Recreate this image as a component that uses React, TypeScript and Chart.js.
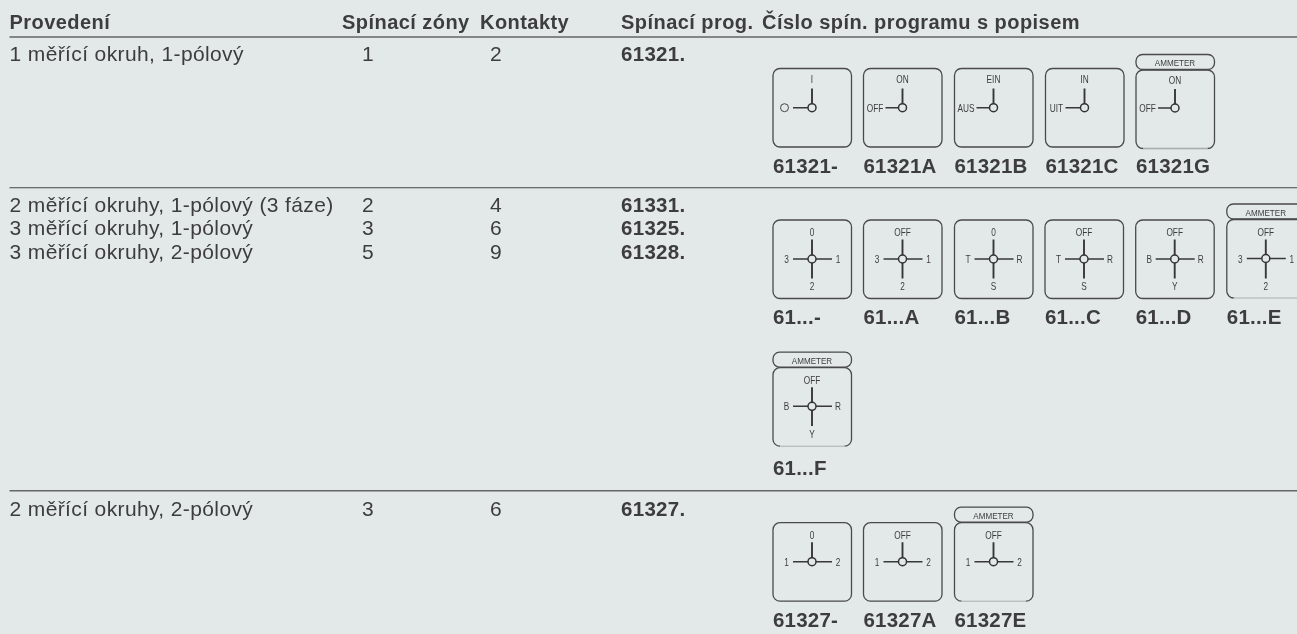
import React, { useEffect, useRef } from "react";
import { Chart, registerables } from "chart.js";

Chart.register(...registerables);

const W = 1297;
const H = 634;
const BG = "#e3e9e9";
const INK = "#3d3d3d";
const FONT = '"Liberation Sans", Arial, sans-serif';

// ---- table data ----
const headers = ["Provedení", "Spínací zóny", "Kontakty", "Spínací prog.", "Číslo spín. programu s popisem"];
const headerX = [9.5, 342, 480, 621, 762];
const variants = [
  "1 měřící okruh, 1-pólový",
  "2 měřící okruhy, 1-pólový (3 fáze)",
  "3 měřící okruhy, 1-pólový",
  "3 měřící okruhy, 2-pólový",
  "2 měřící okruhy, 2-pólový",
];
const zones = ["1", "2", "3", "5", "3"];
const contacts = ["2", "4", "6", "9", "6"];
const programs = ["61321.", "61331.", "61325.", "61328.", "61327."];
const rowBaselines = [61, 211.7, 235, 259.3, 515.5];
const rowZoneX = [362, 362, 362, 362, 362];
const heavyRuleYs = [37, 490.7];
const thinRuleYs = [187.7];

// ---- switch diagrams ----
type Sw = {
  code: string; x: number; top: number; hub: number; base: number;
  up: number; down?: number; left: number; right?: number;
  t: string; l: string; r?: string; b?: string; amm?: boolean;
};

const row1: Sw[] = [
  { code: "61321-", x: 773, top: 68.5, hub: 107.7, base: 172.7, up: 88.5, left: 20, t: "I", l: "O" },
  { code: "61321A", x: 863.5, top: 68.5, hub: 107.7, base: 172.7, up: 88.5, left: 22, t: "ON", l: "OFF" },
  { code: "61321B", x: 954.5, top: 68.5, hub: 107.7, base: 172.7, up: 88.5, left: 22, t: "EIN", l: "AUS" },
  { code: "61321C", x: 1045.5, top: 68.5, hub: 107.7, base: 172.7, up: 88.5, left: 20, t: "IN", l: "UIT" },
  { code: "61321G", x: 1136, top: 70, hub: 108, base: 172.7, up: 89, left: 22, t: "ON", l: "OFF", amm: true },
];
const row2: Sw[] = [
  ["61...-", 773, "0", "3", "1", "2", false],
  ["61...A", 863.5, "OFF", "3", "1", "2", false],
  ["61...B", 954.5, "0", "T", "R", "S", false],
  ["61...C", 1045, "OFF", "T", "R", "S", false],
  ["61...D", 1135.7, "OFF", "B", "R", "Y", false],
  ["61...E", 1226.8, "OFF", "3", "1", "2", true],
].map(([code, x, t, l, r, b, amm]) => ({
  code: code as string, x: x as number, top: amm ? 219.5 : 220, hub: amm ? 258.5 : 259, base: 324,
  up: 239.5, down: 278.5, left: 20, right: 59, t: t as string, l: l as string, r: r as string, b: b as string, amm: amm as boolean,
}));
const row2b: Sw[] = [
  { code: "61...F", x: 773, top: 367.7, hub: 406.3, base: 475, up: 387.3, down: 426, left: 20, right: 59, t: "OFF", l: "B", r: "R", b: "Y", amm: true },
];
const row3: Sw[] = [
  { code: "61327-", x: 773, top: 522.7, hub: 561.7, base: 626.7, up: 542.3, left: 20, right: 59, t: "0", l: "1", r: "2" },
  { code: "61327A", x: 863.5, top: 522.7, hub: 561.7, base: 626.7, up: 542.3, left: 20, right: 59, t: "OFF", l: "1", r: "2" },
  { code: "61327E", x: 954.5, top: 522.7, hub: 561.7, base: 626.7, up: 542.3, left: 20, right: 59, t: "OFF", l: "1", r: "2", amm: true },
];
const switches: Sw[] = [...row1, ...row2, ...row2b, ...row3];

const GAP = { x: NaN, y: NaN };
const HUB_DX = 39;
const BOX = 78.5;

const hubPoints = switches.map((s) => ({ x: s.x + HUB_DX, y: s.hub }));
const openContacts = switches.filter((s) => s.l === "O").map((s) => ({ x: s.x + 11.5, y: s.hub }));
const verticalArms = switches.flatMap((s) => [
  { x: s.x + HUB_DX, y: s.up }, { x: s.x + HUB_DX, y: s.down ?? s.hub }, GAP,
]);
const horizontalArms = switches.flatMap((s) => [
  { x: s.x + s.left, y: s.hub }, { x: s.x + (s.right ?? HUB_DX), y: s.hub }, GAP,
]);
const heavyRules = heavyRuleYs.flatMap((y) => [{ x: 9.5, y }, { x: W, y }, GAP]);
const thinRules = thinRuleYs.flatMap((y) => [{ x: 9.5, y }, { x: W, y }, GAP]);

export default function App() {
  const ref = useRef<HTMLCanvasElement>(null);
  useEffect(() => {
    const textPlugin = {
      id: "tableText",
      beforeDraw(c: any) {
        const g = c.ctx;
        g.save();
        g.fillStyle = BG;
        g.fillRect(0, 0, c.width, c.height);
        g.restore();
      },
      beforeDatasetsDraw(c: any) {
        const g: CanvasRenderingContext2D = c.ctx;
        const X = (v: number) => c.scales.x.getPixelForValue(v);
        const Y = (v: number) => c.scales.y.getPixelForValue(v);
        g.save();
        g.strokeStyle = "#4a4a4a";
        g.lineWidth = 1.3;
        for (const s of switches) {
          g.beginPath();
          g.roundRect(X(s.x), Y(s.top), BOX, BOX, 7);
          g.stroke();
          if (s.amm) {
            g.beginPath();
            g.roundRect(X(s.x), Y(s.top - 15.5), BOX, 15, 6.5);
            g.stroke();
            g.save();
            g.lineWidth = 2.2;
            g.strokeStyle = BG;
            g.beginPath();
            g.moveTo(X(s.x + 7), Y(s.top) + BOX);
            g.lineTo(X(s.x + BOX - 7), Y(s.top) + BOX);
            g.stroke();
            g.lineWidth = 1;
            g.strokeStyle = "#a9adad";
            g.stroke();
            g.restore();
          }
        }
        g.restore();
      },
      afterDatasetsDraw(c: any) {
        const g: CanvasRenderingContext2D = c.ctx;
        const X = (v: number) => c.scales.x.getPixelForValue(v);
        const Y = (v: number) => c.scales.y.getPixelForValue(v);
        const put = (t: string, x: number, y: number, font: string, align: CanvasTextAlign = "left", sx = 1, sp = "0px") => {
          g.save();
          g.translate(X(x), Y(y));
          g.scale(sx, 1);
          g.font = font;
          (g as any).letterSpacing = sp;
          g.textAlign = align;
          g.textBaseline = "alphabetic";
          g.fillStyle = INK;
          g.fillText(t, 0, 0);
          g.restore();
        };
        const bold = `bold 20px ${FONT}`;
        const reg = `21px ${FONT}`;
        headers.forEach((h, i) => put(h, headerX[i], 29.3, bold, "left", 1, "0.45px"));
        variants.forEach((v, i) => {
          put(v, 9.5, rowBaselines[i], reg, "left", 1, "0.38px");
          put(zones[i], rowZoneX[i], rowBaselines[i], reg);
          put(contacts[i], 490, rowBaselines[i], reg);
          put(programs[i], 621, rowBaselines[i], `bold 20.5px ${FONT}`, "left", 1, "0.3px");
        });
        const small = `11.5px ${FONT}`;
        for (const s of switches) {
          const lab = (t: string, x: number, y: number) => put(t, x, y, small, "center", 0.72);
          put(s.code, s.x, s.base, `bold 20.5px ${FONT}`, "left", 1, "0.2px");
          lab(s.t, s.x + HUB_DX, s.up - (row1.includes(s) ? 5.5 : 3.2));
          if (s.l !== "O") lab(s.l, s.x + (s.left > 20 ? 11.5 : s.l.length > 1 ? 11 : 13.5), s.hub + 4);
          if (s.r) lab(s.r, s.x + 65, s.hub + 4);
          if (s.b) lab(s.b, s.x + HUB_DX, (s.down as number) + 11.5);
          if (s.amm) put("AMMETER", s.x + HUB_DX, s.top - 4, `9.5px ${FONT}`, "center", 0.85);
        }
      },
    };

    const chart = new Chart(ref.current as HTMLCanvasElement, {
      type: "scatter",
      data: {
        datasets: [
          { data: hubPoints, showLine: false, pointRadius: 4, pointBorderWidth: 1.5, pointBackgroundColor: BG, pointBorderColor: "#333" },
          { data: openContacts, showLine: false, pointRadius: 4, pointBorderWidth: 1, pointBackgroundColor: BG, pointBorderColor: "#444" },
          { data: verticalArms, showLine: true, spanGaps: false, pointRadius: 0, borderWidth: 1.9, borderColor: "#383838" },
          { data: horizontalArms, showLine: true, spanGaps: false, pointRadius: 0, borderWidth: 1.4, borderColor: "#383838" },
          { data: heavyRules, showLine: true, spanGaps: false, pointRadius: 0, borderWidth: 1.6, borderColor: "#666" },
          { data: thinRules, showLine: true, spanGaps: false, pointRadius: 0, borderWidth: 1.1, borderColor: "#444" },
        ] as any,
      },
      options: {
        animation: false,
        responsive: false,
        layout: { padding: 0, autoPadding: false },
        plugins: { legend: { display: false }, tooltip: { enabled: false } },
        scales: {
          x: { type: "linear", min: 0, max: W, display: false },
          y: { type: "linear", min: 0, max: H, reverse: true, display: false },
        },
      },
      plugins: [textPlugin],
    });
    return () => chart.destroy();
  }, []);

  return (
    <div style={{ position: "fixed", left: 0, top: 0, width: W, height: H, background: BG, overflow: "hidden" }}>
      <canvas ref={ref} width={W} height={H} style={{ display: "block" }} />
    </div>
  );
}
